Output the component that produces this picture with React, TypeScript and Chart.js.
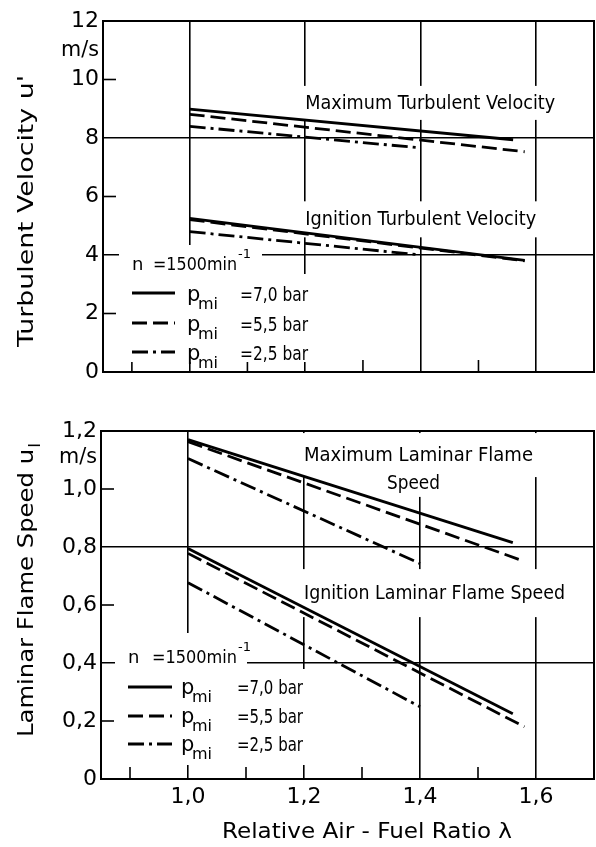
import React, { useEffect, useRef } from 'react';
import { Chart, registerables } from 'chart.js';

Chart.register(...registerables);

const FONT = "'DejaVu Sans', 'Liberation Sans', sans-serif";

// ---------- shared x axis (relative air-fuel ratio) ----------
const lambdaMin = 0.85;
const lambdaMax = 1.7;
const lambdaTicks = [0.9, 1.0, 1.1, 1.2, 1.3, 1.4, 1.5, 1.6];
const lambdaMajor = [1.0, 1.2, 1.4, 1.6];

// ---------- legend ----------
const pmiLabels = ['=7,0 bar', '=5,5 bar', '=2,5 bar'];
const speedLabel = '=1500min';

// ---------- top panel: turbulent velocity u' (m/s) ----------
const uTicks = [0, 2, 4, 6, 8, 10, 12];
const uGrid = [4, 8];
const uMaxX70 = [1.0, 1.56];
const uMaxY70 = [8.99, 7.94];
const uMaxX55 = [1.0, 1.58];
const uMaxY55 = [8.81, 7.53];
const uMaxX25 = [1.0, 1.4];
const uMaxY25 = [8.4, 7.66];
const uIgnX70 = [1.0, 1.58];
const uIgnY70 = [5.25, 3.82];
const uIgnX55 = [1.0, 1.58];
const uIgnY55 = [5.21, 3.8];
const uIgnX25 = [1.0, 1.4];
const uIgnY25 = [4.8, 4.0];

// ---------- bottom panel: laminar flame speed u_l (m/s) ----------
const slTicks = [0, 0.2, 0.4, 0.6, 0.8, 1.0, 1.2];
const slGrid = [0.4, 0.8];
const slMaxX70 = [1.0, 1.56];
const slMaxY70 = [1.17, 0.815];
const slMaxX55 = [1.0, 1.578];
const slMaxY55 = [1.163, 0.752];
const slMaxX25 = [1.0, 1.4];
const slMaxY25 = [1.105, 0.743];
const slIgnX70 = [1.0, 1.56];
const slIgnY70 = [0.795, 0.225];
const slIgnX55 = [1.0, 1.58];
const slIgnY55 = [0.778, 0.18];
const slIgnX25 = [1.0, 1.4];
const slIgnY25 = [0.677, 0.249];

// ---------- styles ----------
const DASHES: number[][] = [[], [15, 6], [16, 5, 3, 5]];
const LINE_W = 2.8;
const GRID_W = 1.6;

const near = (a: number, b: number) => Math.abs(a - b) < 1e-6;
const comma = (v: number) => (v === 0 ? '0' : v.toFixed(1).replace('.', ','));

function series(xs: number[], ys: number[], style: number) {
  return {
    data: xs.map((x, i) => ({ x, y: ys[i] })),
    borderColor: '#000',
    borderWidth: LINE_W,
    borderDash: DASHES[style],
    borderCapStyle: 'butt',
    pointRadius: 0,
    tension: 0,
    fill: false,
  };
}

type Note = { text: string; x: number; y: number; w: number; padX: number; padY: number };

type PanelCfg = {
  canvasH: number;
  pageTop: number;
  padTop: number;
  yWidth: number;
  xHeight: number;
  yMax: number;
  yTicks: number[];
  yGrid: number[];
  yFmt: (v: number) => string;
  unitValue: number;
  showX: boolean;
  datasets: any[];
  notes: Note[];
  legend: {
    nBase: number;
    rows: number[];
    sample: [number, number];
    nX: number;
    eqX: number;
    eqW: number;
    supX: number;
    pX: number;
    valX: number;
    valW: number;
    textDy: number;
    boxes: number[][];
  };
  yTitle: { main: string; sub: string; cx: number; cy: number; w: number };
  xTitle?: { text: string; cx: number; cy: number; w: number };
};

function line(ctx: CanvasRenderingContext2D, x1: number, y1: number, x2: number, y2: number) {
  ctx.beginPath();
  ctx.moveTo(x1, y1);
  ctx.lineTo(x2, y2);
  ctx.stroke();
}

// draw text horizontally scaled to an exact width
function fitText(
  ctx: CanvasRenderingContext2D,
  text: string,
  x: number,
  y: number,
  w: number,
  align: CanvasTextAlign = 'left',
) {
  const nw = ctx.measureText(text).width || 1;
  ctx.save();
  ctx.translate(x, y);
  ctx.scale(w / nw, 1);
  ctx.textAlign = align;
  ctx.fillText(text, 0, 0);
  ctx.restore();
}

function makeDecor(cfg: PanelCfg) {
  return {
    id: 'decor',
    beforeDatasetsDraw(chart: any) {
      const ctx: CanvasRenderingContext2D = chart.ctx;
      const a = chart.chartArea;
      const xs = chart.scales.x;
      const ys = chart.scales.y;
      ctx.save();
      ctx.strokeStyle = '#000';
      ctx.lineWidth = GRID_W;
      // short inward ticks
      cfg.yTicks.forEach((v) => {
        if (cfg.yGrid.some((g) => near(g, v)) || v === 0 || near(v, cfg.yMax)) return;
        const py = ys.getPixelForValue(v);
        line(ctx, a.left, py, a.left + 13, py);
      });
      lambdaTicks.forEach((v) => {
        if (lambdaMajor.some((g) => near(g, v))) return;
        const px = xs.getPixelForValue(v);
        line(ctx, px, a.bottom, px, a.bottom - 12);
      });

      // unit label
      ctx.fillStyle = '#000';
      ctx.font = `22px ${FONT}`;
      ctx.textBaseline = 'middle';
      fitText(ctx, 'm/s', a.left - 4, ys.getPixelForValue(cfg.unitValue), 38, 'right');

      // curve annotations with white background
      cfg.notes.forEach((n) => {
        const px = xs.getPixelForValue(n.x);
        const py = ys.getPixelForValue(n.y);
        ctx.fillStyle = '#fff';
        ctx.fillRect(px - n.padX, py - n.padY, n.w + 2 * n.padX, 2 * n.padY);
        ctx.fillStyle = '#000';
        ctx.font = `19px ${FONT}`;
        ctx.textBaseline = 'middle';
        fitText(ctx, n.text, px, py + 1, n.w, 'left');
      });

      // legend
      const L = cfg.legend;
      const lx = a.left;
      const lb = a.bottom;
      ctx.fillStyle = '#fff';
      L.boxes.forEach((b) => ctx.fillRect(lx + b[0], lb + b[1], b[2] - b[0], b[3] - b[1]));
      ctx.fillStyle = '#000';
      ctx.textAlign = 'left';
      ctx.textBaseline = 'alphabetic';
      ctx.font = `18px ${FONT}`;
      ctx.fillText('n', lx + L.nX, lb + L.nBase);
      fitText(ctx, speedLabel, lx + L.eqX, lb + L.nBase, L.eqW, 'left');
      ctx.font = `13px ${FONT}`;
      ctx.fillText('-1', lx + L.supX, lb + L.nBase - 12);
      L.rows.forEach((r, i) => {
        const y = lb + r;
        ctx.save();
        ctx.lineWidth = LINE_W;
        ctx.setLineDash(DASHES[i]);
        line(ctx, lx + L.sample[0], y, lx + L.sample[1], y);
        ctx.restore();
        ctx.font = `21px ${FONT}`;
        ctx.fillText('p', lx + L.pX, y + L.textDy);
        ctx.font = `16px ${FONT}`;
        ctx.fillText('mi', lx + L.pX + 11, y + L.textDy + 8);
        ctx.font = `20px ${FONT}`;
        fitText(ctx, pmiLabels[i], lx + L.valX, y + L.textDy, L.valW, 'left');
      });

      // y title (rotated)
      const T = cfg.yTitle;
      ctx.save();
      ctx.translate(T.cx, T.cy);
      ctx.rotate(-Math.PI / 2);
      ctx.font = `21px ${FONT}`;
      const mainW = ctx.measureText(T.main).width;
      ctx.font = `15px ${FONT}`;
      const extraW = T.sub ? ctx.measureText(T.sub).width + 1 : 0;
      const total = mainW + extraW;
      ctx.scale(T.w / total, 1);
      const x0 = -total / 2;
      ctx.textAlign = 'left';
      ctx.textBaseline = 'middle';
      ctx.font = `21px ${FONT}`;
      ctx.fillText(T.main, x0, 0);
      ctx.font = `15px ${FONT}`;
      if (T.sub) ctx.fillText(T.sub, x0 + mainW + 1, 8);
      ctx.restore();

      if (cfg.xTitle) {
        const X = cfg.xTitle;
        ctx.font = `22px ${FONT}`;
        ctx.textBaseline = 'middle';
        fitText(ctx, X.text, X.cx, X.cy, X.w, 'center');
      }
      ctx.restore();
    },
    afterDatasetsDraw(chart: any) {
      const ctx: CanvasRenderingContext2D = chart.ctx;
      const a = chart.chartArea;
      ctx.save();
      ctx.strokeStyle = '#000';
      ctx.lineWidth = 2;
      ctx.strokeRect(a.left, a.top, a.right - a.left, a.bottom - a.top);
      ctx.restore();
    },
  };
}

function buildOptions(cfg: PanelCfg) {
  return {
    responsive: false,
    animation: false,
    devicePixelRatio: 1,
    layout: { padding: { top: cfg.padTop, right: 2, left: 0, bottom: 0 } },
    plugins: { legend: { display: false }, tooltip: { enabled: false }, title: { display: false } },
    scales: {
      x: {
        type: 'linear',
        min: lambdaMin,
        max: lambdaMax,
        afterBuildTicks: (s: any) => {
          s.ticks = lambdaTicks.map((v) => ({ value: v }));
        },
        afterFit: (s: any) => {
          s.height = cfg.xHeight;
        },
        grid: {
          drawTicks: false,
          lineWidth: GRID_W,
          color: (c: any) => (c.tick && lambdaMajor.some((g) => near(g, c.tick.value)) ? '#000' : 'rgba(0,0,0,0)'),
        },
        border: { display: false },
        ticks: {
          display: cfg.showX,
          padding: 5,
          color: '#000',
          font: { family: FONT, size: 22 },
          maxRotation: 0,
          autoSkip: false,
          callback: (v: number) => (lambdaMajor.some((g) => near(g, v)) ? comma(v) : ''),
        },
      },
      y: {
        type: 'linear',
        min: 0,
        max: cfg.yMax,
        afterBuildTicks: (s: any) => {
          s.ticks = cfg.yTicks.map((v) => ({ value: v }));
        },
        afterFit: (s: any) => {
          s.width = cfg.yWidth;
        },
        grid: {
          drawTicks: false,
          lineWidth: GRID_W,
          color: (c: any) => (c.tick && cfg.yGrid.some((g) => near(g, c.tick.value)) ? '#000' : 'rgba(0,0,0,0)'),
        },
        border: { display: false },
        ticks: {
          padding: 4,
          color: '#000',
          font: { family: FONT, size: 22 },
          autoSkip: false,
          callback: (v: number) => cfg.yFmt(v),
        },
      },
    },
  };
}

const topCfg: PanelCfg = {
  canvasH: 400,
  pageTop: 0,
  padTop: 21,
  yWidth: 103,
  xHeight: 28,
  yMax: 12,
  yTicks: uTicks,
  yGrid: uGrid,
  yFmt: (v) => String(v),
  unitValue: 11,
  showX: false,
  datasets: [
    series(uMaxX70, uMaxY70, 0),
    series(uMaxX55, uMaxY55, 1),
    series(uMaxX25, uMaxY25, 2),
    series(uIgnX70, uIgnY70, 0),
    series(uIgnX55, uIgnY55, 1),
    series(uIgnX25, uIgnY25, 2),
  ],
  notes: [
    { text: 'Maximum Turbulent Velocity', x: 1.2, y: 9.2, w: 250, padX: 4, padY: 17 },
    { text: 'Ignition Turbulent Velocity', x: 1.2, y: 5.22, w: 231, padX: 4, padY: 18 },
  ],
  legend: {
    nBase: -102,
    rows: [-79, -49, -20],
    sample: [29, 72],
    nX: 29,
    eqX: 50,
    eqW: 84,
    supX: 135,
    pX: 84,
    valX: 137,
    valW: 68,
    textDy: 8,
    boxes: [
      [16, -127, 159, -98],
      [22, -98, 207, -10],
    ],
  },
  yTitle: { main: "Turbulent Velocity u'", sub: '', cx: 28, cy: 211, w: 272 },
};

const bottomCfg: PanelCfg = {
  canvasH: 447,
  pageTop: 400,
  padTop: 31,
  yWidth: 101,
  xHeight: 68,
  yMax: 1.2,
  yTicks: slTicks,
  yGrid: slGrid,
  yFmt: comma,
  unitValue: 1.11,
  showX: true,
  datasets: [
    series(slMaxX70, slMaxY70, 0),
    series(slMaxX55, slMaxY55, 1),
    series(slMaxX25, slMaxY25, 2),
    series(slIgnX70, slIgnY70, 0),
    series(slIgnX55, slIgnY55, 1),
    series(slIgnX25, slIgnY25, 2),
  ],
  notes: [
    { text: 'Maximum Laminar Flame', x: 1.2, y: 1.117, w: 229, padX: 4, padY: 22 },
    { text: 'Speed', x: 1.343, y: 1.021, w: 53, padX: 5, padY: 14 },
    { text: 'Ignition Laminar Flame Speed', x: 1.2, y: 0.641, w: 261, padX: 4, padY: 24 },
  ],
  legend: {
    nBase: -116,
    rows: [-92, -63, -35],
    sample: [27, 71],
    nX: 27,
    eqX: 51,
    eqW: 85,
    supX: 137,
    pX: 80,
    valX: 136,
    valW: 66,
    textDy: 7,
    boxes: [
      [14, -146, 146, -110],
      [20, -110, 205, -14],
    ],
  },
  yTitle: { main: 'Laminar Flame Speed u', sub: 'l', cx: 28, cy: 190, w: 294 },
  xTitle: { text: 'Relative Air - Fuel Ratio \u03bb', cx: 367, cy: 432, w: 290 },
};

function Panel({ cfg }: { cfg: PanelCfg }) {
  const ref = useRef<HTMLCanvasElement>(null);
  useEffect(() => {
    const chart = new Chart(ref.current as HTMLCanvasElement, {
      type: 'line',
      data: { datasets: cfg.datasets },
      options: buildOptions(cfg) as any,
      plugins: [makeDecor(cfg) as any],
    });
    return () => chart.destroy();
  }, [cfg]);
  return (
    <canvas
      ref={ref}
      width={596}
      height={cfg.canvasH}
      style={{ position: 'absolute', left: 0, top: cfg.pageTop, width: 596, height: cfg.canvasH }}
    />
  );
}

export default function App() {
  useEffect(() => {
    document.body.style.margin = '0';
    document.body.style.background = '#fff';
  }, []);
  return (
    <div style={{ position: 'absolute', left: 0, top: 0, width: 596, height: 847, background: '#fff', overflow: 'hidden' }}>
      <Panel cfg={topCfg} />
      <Panel cfg={bottomCfg} />
    </div>
  );
}
